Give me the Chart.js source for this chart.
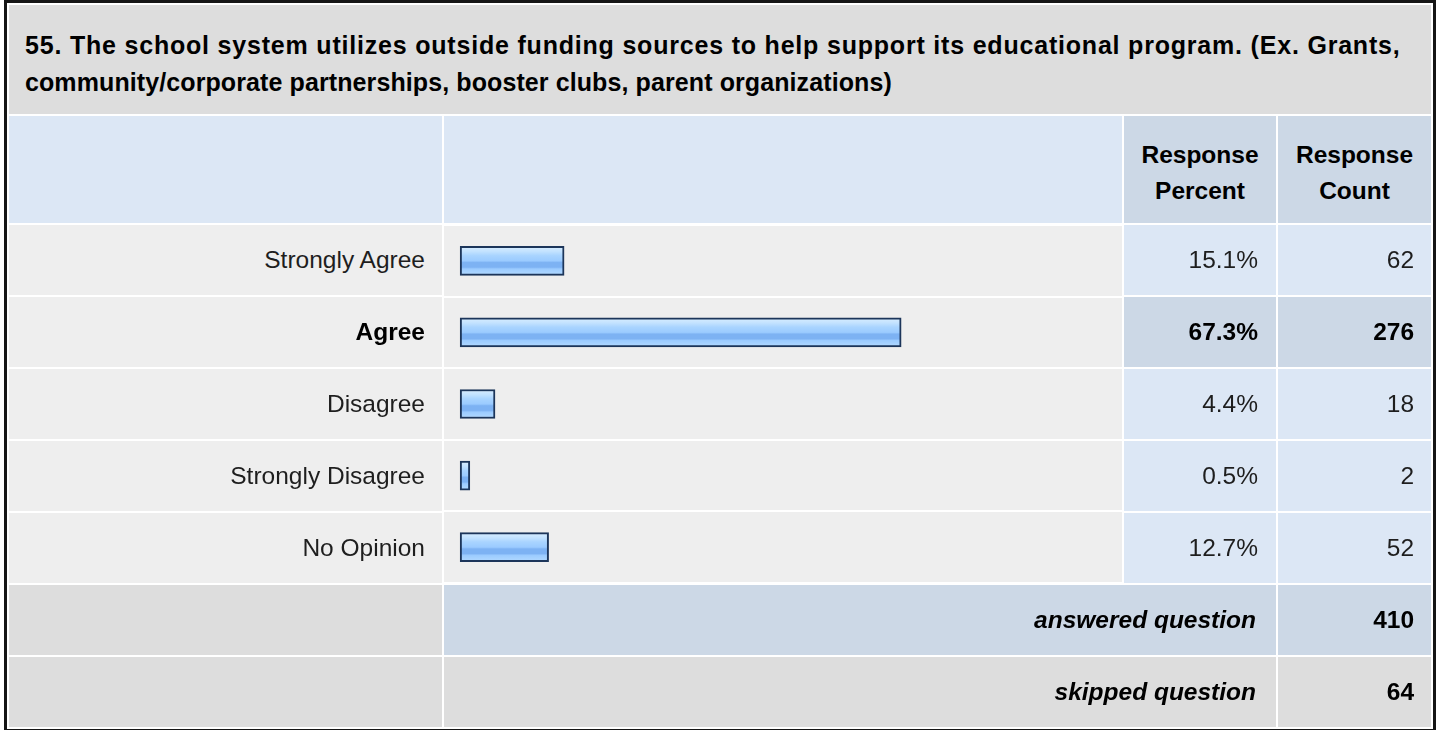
<!DOCTYPE html>
<html>
<head>
<meta charset="utf-8">
<script src="https://cdn.jsdelivr.net/npm/chart.js@4.4.1/dist/chart.umd.min.js"></script>
<style>
body { margin: 0; background: #fff; font-family: "Liberation Sans", Arial, sans-serif; }
#wrap { position: absolute; left: 4px; top: 0px; border: 3px solid #151515; background: #fff; }
table { border-collapse: separate; border-spacing: 2px; table-layout: fixed; width: 1426px; }
td { padding: 0; font-size: 24.5px; color: #1e1e1e; vertical-align: middle; }
tr.q { height: 109px; }
tr.q td { background: #dddddd; font-weight: bold; font-size: 25px; line-height: 37px; color: #000; padding: 22px 16px 0 16px; white-space: nowrap; }
tr.h { height: 107px; }
tr.h td { background: #dce7f5; }
tr.h td.hc { background: #ccd8e6; font-weight: bold; color: #000; text-align: center; line-height: 36px; padding-top: 6px; }
tr.r { height: 70px; }
td.lab { background: #eeeeee; text-align: right; padding-right: 17px; }
td.num { background: #dce7f5; text-align: right; padding-right: 18px; }
td.num2 { padding-right: 17px; }
tr.top td.lab { font-weight: bold; color: #000; }
tr.top td.num { background: #ccd8e6; font-weight: bold; color: #000; }
td.bars { background: #eeeeee; vertical-align: top; }
td.bars canvas { display: block; }
tr.f { height: 70px; }
tr.f td { background: #dddddd; font-weight: bold; color: #000; text-align: right; padding-right: 17px; }
tr.f td.it { font-style: italic; padding-right: 20px; }
tr.f td.blue { background: #ccd8e6; }
</style>
</head>
<body>
<div id="wrap">
<table id="tbl">
<colgroup><col style="width:433px"><col style="width:678px"><col style="width:152px"><col style="width:153px"></colgroup>
<tbody id="body"></tbody>
</table>
</div>
<script>
// data
const questionLines = [
    "55. The school system utilizes outside funding sources to help support its educational program. (Ex. Grants,",
    "community/corporate partnerships, booster clubs, parent organizations)"
];
const answers = ["Strongly Agree", "Agree", "Disagree", "Strongly Disagree", "No Opinion"];
const percents = [15.1, 67.3, 4.4, 0.5, 12.7];
const counts = [62, 276, 18, 2, 52];
const answered = 410;
const skipped = 64;

const topIdx = counts.indexOf(Math.max(...counts));

let html = '';
html += `<tr class="q"><td colspan="4" style="vertical-align:top">`
    + `<span style="letter-spacing:0.8px">${questionLines[0]}</span><br>`
    + `<span style="letter-spacing:0.1px">${questionLines[1]}</span></td></tr>`;
html += `<tr class="h"><td></td><td></td><td class="hc">Response<br>Percent</td><td class="hc">Response<br>Count</td></tr>`;
for (let i = 0; i < answers.length; i++) {
    html += `<tr class="r${i === topIdx ? ' top' : ''}"><td class="lab">${answers[i]}</td>`;
    if (i === 0) html += `<td class="bars" rowspan="${answers.length}"><canvas id="myChart" width="678" height="358"></canvas></td>`;
    html += `<td class="num">${percents[i].toFixed(1)}%</td><td class="num num2">${counts[i]}</td></tr>`;
}
html += `<tr class="f"><td></td><td colspan="2" class="it blue">answered question</td><td class="blue">${answered}</td></tr>`;
html += `<tr class="f"><td></td><td colspan="2" class="it">skipped question</td><td>${skipped}</td></tr>`;
document.getElementById('body').innerHTML = html;

// glossy blue fill, one gradient per bar
function barFill(c) {
    const chart = c.chart;
    const y = chart.scales && chart.scales.y;
    if (!chart.chartArea || !y || c.dataIndex === undefined) return '#99ccff';
    const mid = y.getPixelForValue(c.dataIndex);
    const g = chart.ctx.createLinearGradient(0, mid - 14.5, 0, mid + 14.5);
    g.addColorStop(0, '#d9eeff');
    g.addColorStop(0.18, '#c2e2ff');
    g.addColorStop(0.32, '#a9d4ff');
    g.addColorStop(0.5, '#9bcbff');
    g.addColorStop(0.56, '#7db2f3');
    g.addColorStop(0.72, '#7db2f3');
    g.addColorStop(0.78, '#9bcbff');
    g.addColorStop(1, '#b3daff');
    return g;
}

var ctx = document.getElementById('myChart').getContext('2d');
var myChartInstance = new Chart(ctx, {
    type: 'bar',
    data: {
        labels: answers,
        datasets: [{
            data: percents,
            base: -1,
            barThickness: 29,
            borderWidth: 2,
            borderColor: '#1c355a',
            borderSkipped: false,
            backgroundColor: barFill
        }]
    },
    options: {
        indexAxis: 'y',
        responsive: false,
        animation: false,
        layout: { padding: 0 },
        scales: {
            x: { display: false, min: -3.5, max: 101.5 },
            y: {
                ticks: { display: false },
                grid: { color: '#ffffff', lineWidth: 2, offset: true, drawTicks: false },
                border: { display: false }
            }
        },
        plugins: {
            legend: { display: false },
            tooltip: { enabled: false }
        }
    }
});
</script>
</body>
</html>
